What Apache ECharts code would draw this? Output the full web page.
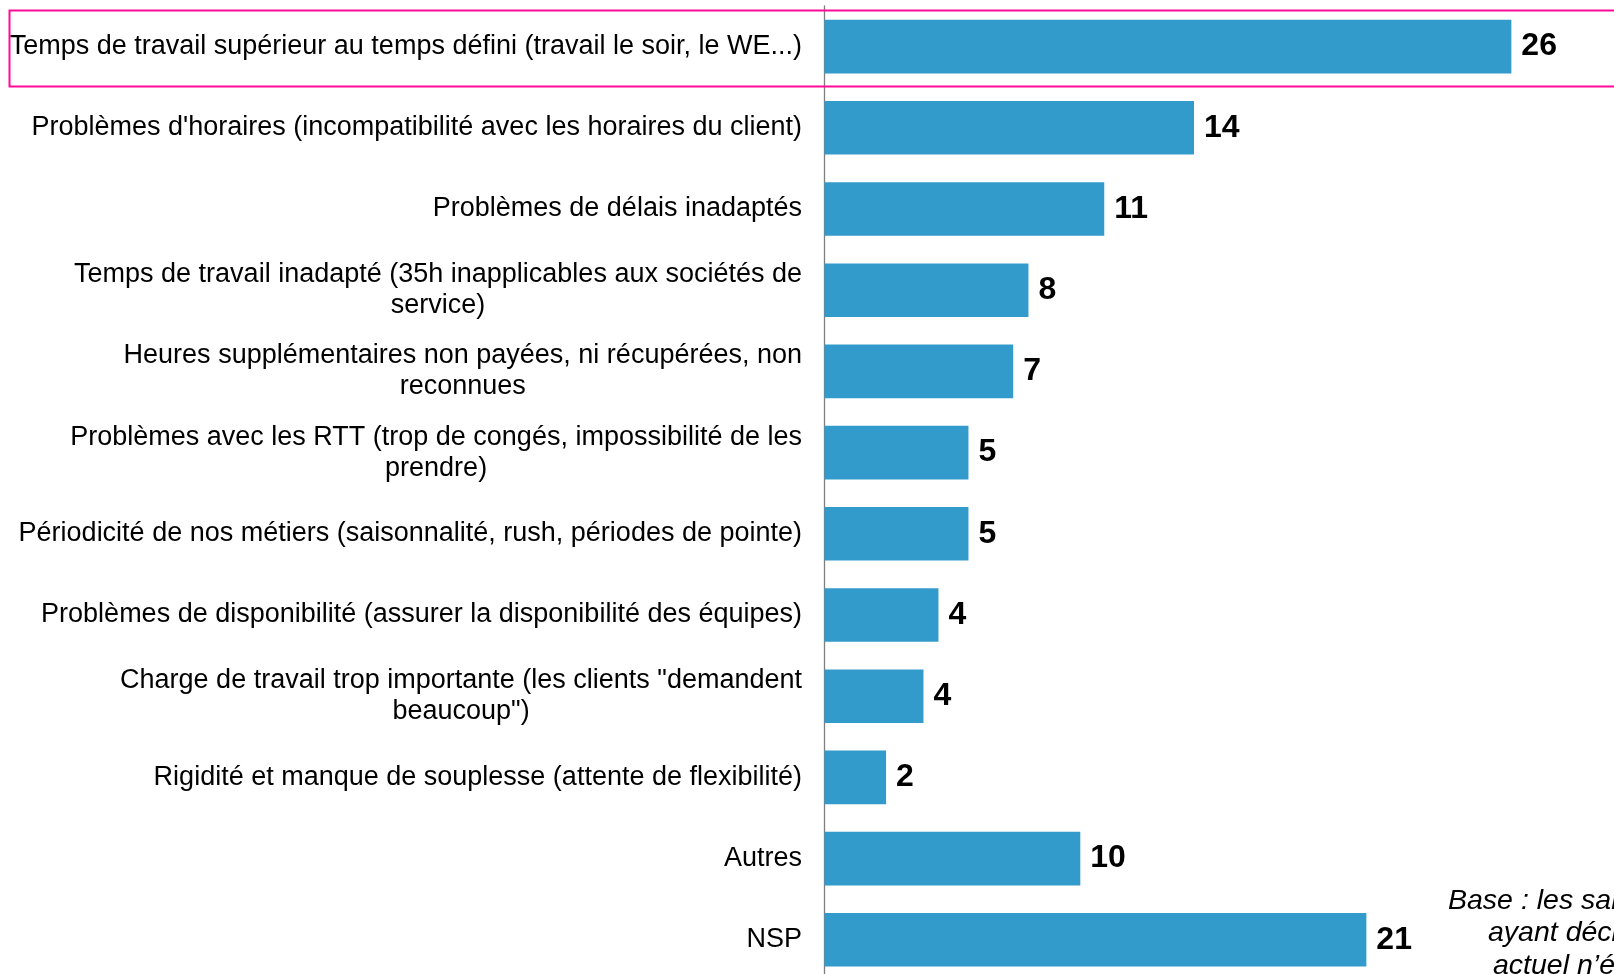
<!DOCTYPE html>
<html>
<head>
<meta charset="utf-8">
<script src="https://cdn.jsdelivr.net/npm/echarts@6/dist/echarts.min.js"></script>
<style>
  html, body { margin: 0; padding: 0; background: #fff; overflow: hidden; }
  /* a bit taller than the window: the last band runs past the bottom edge, as in the original */
  #chart { width: 1614px; height: 981px; }
</style>
</head>
<body>
<div id="chart"></div>
<script>
// categories, top to bottom (line breaks as in the original)
var categories = [
  "Temps de travail supérieur au temps défini (travail le soir, le WE...)",
  "Problèmes d'horaires (incompatibilité avec les horaires du client)",
  "Problèmes de délais inadaptés",
  "Temps de travail inadapté (35h inapplicables aux sociétés de\nservice)",
  "Heures supplémentaires non payées, ni récupérées, non\nreconnues",
  "Problèmes avec les RTT (trop de congés, impossibilité de les\nprendre)",
  "Périodicité de nos métiers (saisonnalité, rush, périodes de pointe)",
  "Problèmes de disponibilité (assurer la disponibilité des équipes)",
  "Charge de travail trop importante (les clients \"demandent\nbeaucoup\")",
  "Rigidité et manque de souplesse (attente de flexibilité)",
  "Autres",
  "NSP"
];
// bar lengths (labels show them rounded)
var values = [26.1, 14.04, 10.63, 7.75, 7.17, 5.47, 5.47, 4.33, 3.76, 2.34, 9.72, 20.59];
var noteLines = ["Base : les salariés", "ayant déclaré que leur", "actuel n’était pas adapté"];

var FONT = "'Liberation Sans', Arial, sans-serif";
var chart = echarts.init(document.getElementById("chart"), null, { renderer: "canvas" });

var option = {
  animation: false,
  backgroundColor: "#ffffff",
  grid: { left: 824.5, top: 6, width: 792, height: 974.4 },
  xAxis: {
    type: "value",
    min: 0,
    max: 30,
    show: false
  },
  yAxis: {
    type: "category",
    inverse: true,
    data: categories,
    axisLine: { show: true, lineStyle: { color: "#7f7f7f", width: 1.3 } },
    axisTick: { show: false },
    axisLabel: {
      margin: 22.5,
      align: "right",
      color: "#000",
      fontFamily: FONT,
      fontSize: 27,
      lineHeight: 31,
      formatter: function (v) {
        return v.split("\n").map(function (l) { return "{c|" + l + "}"; }).join("\n");
      },
      rich: {
        c: { align: "center", color: "#000", fontFamily: FONT, fontSize: 27, lineHeight: 31 }
      }
    }
  },
  series: [
    {
      type: "bar",
      data: values,
      barCategoryGap: "34%",
      itemStyle: { color: "#339bcc" },
      label: {
        show: true,
        position: "right",
        distance: 10,
        color: "#000",
        fontFamily: FONT,
        fontWeight: "bold",
        fontSize: 32,
        formatter: function (p) { return Math.round(p.value); }
      }
    }
  ],
  graphic: [
    {
      type: "rect",
      shape: { x: 9.5, y: 10.5, width: 1620, height: 76 },
      style: { fill: null, stroke: "#ff0a96", lineWidth: 2 },
      z: 10
    },
    {
      type: "text", left: 1448, top: 887,
      style: { text: noteLines[0], font: "italic 28.5px " + FONT, fill: "#000" }
    },
    {
      type: "text", left: 1488, top: 919,
      style: { text: noteLines[1], font: "italic 28.5px " + FONT, fill: "#000" }
    },
    {
      type: "text", left: 1493, top: 952,
      style: { text: noteLines[2], font: "italic 28.5px " + FONT, fill: "#000" }
    }
  ]
};

chart.setOption(option);
</script>
</body>
</html>
